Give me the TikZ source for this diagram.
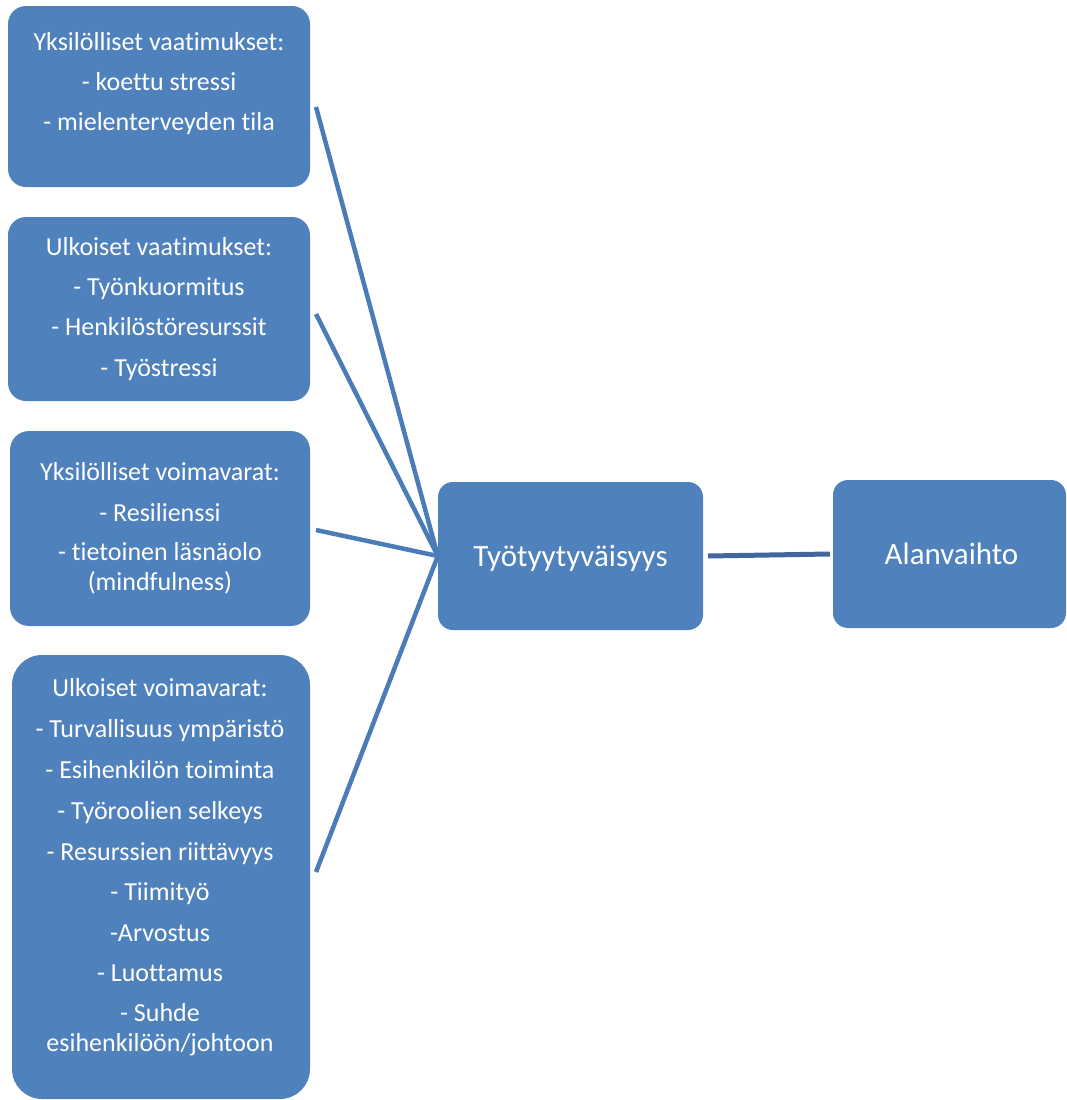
\documentclass[tikz,border=0pt]{standalone}
\usepackage{fontspec}
\setmainfont{Carlito}[Ligatures={NoCommon,NoContextual,NoRequired}]
\definecolor{boxblue}{RGB}{79,129,189}
\definecolor{linkblue}{RGB}{74,124,184}
\definecolor{darklink}{RGB}{64,104,158}
\begin{document}
\begin{tikzpicture}[x=1pt,y=-1pt,
  box/.style={fill=boxblue, draw=none, inner sep=0pt},
  txt/.style={text=white, anchor=base, inner sep=0pt, font=\fontsize{26}{30}\selectfont},
  bigtxt/.style={text=white, anchor=base, inner sep=0pt, font=\fontsize{31}{36}\selectfont},
  link/.style={draw=linkblue, line width=4.5pt},
  mainlink/.style={draw=darklink, line width=5pt},
]
\useasboundingbox (0,0) rectangle (1067,1100);

% boxes
\node[box, rounded corners=18pt, minimum width=302pt, minimum height=181pt] (b1) at (159,96.5) {};
\node[box, rounded corners=18pt, minimum width=302pt, minimum height=184pt] (b2) at (159,309) {};
\node[box, rounded corners=19pt, minimum width=300pt, minimum height=195pt] (b3) at (160,528.5) {};
\node[box, rounded corners=30pt, minimum width=298pt, minimum height=444pt] (b4) at (161,877) {};
\node[box, rounded corners=15pt, minimum width=265pt, minimum height=148pt] (ct) at (570.5,556) {};
\node[box, rounded corners=15pt, minimum width=233pt, minimum height=148pt] (av) at (949.5,554) {};

% connector end points
\coordinate (s1) at (316,107);
\coordinate (s2) at (316,314);
\coordinate (s3) at (316,530);
\coordinate (s4) at (316,872);
\coordinate (e1) at (708,556);
\coordinate (e2) at (830,554);

\draw[link] (s1) -- (ct.west);
\draw[link] (s2) -- (ct.west);
\draw[link] (s3) -- (ct.west);
\draw[link] (s4) -- (ct.west);
\draw[mainlink] (e1) -- (e2);

% box 1 text
\node[txt] (t11) at (159,50) {Yksilölliset vaatimukset:};
\node[txt] (t12) at (159,90) {- koettu stressi};
\node[txt] (t13) at (159,130) {- mielenterveyden tila};

% box 2 text
\node[txt] (t21) at (159,255) {Ulkoiset vaatimukset:};
\node[txt] (t22) at (159,295) {- Työnkuormitus};
\node[txt] (t23) at (159,335) {- Henkilöstöresurssit};
\node[txt] (t24) at (159,376) {- Työstressi};

% box 3 text
\node[txt] (t31) at (160,480) {Yksilölliset voimavarat:};
\node[txt] (t32) at (160,521) {- Resilienssi};
\node[txt] (t33) at (160,560) {- tietoinen läsnäolo};
\node[txt] (t34) at (160,590) {(mindfulness)};

% box 4 text
\node[txt] (t41) at (160,696) {Ulkoiset voimavarat:};
\node[txt] (t42) at (160,737) {- Turvallisuus ympäristö};
\node[txt] (t43) at (160,778) {- Esihenkilön toiminta};
\node[txt] (t44) at (160,819) {- Työroolien selkeys};
\node[txt] (t45) at (160,860) {- Resurssien riittävyys};
\node[txt] (t46) at (160,900) {- Tiimityö};
\node[txt] (t47) at (160,941) {-Arvostus};
\node[txt] (t48) at (160,981) {- Luottamus};
\node[txt] (t49) at (160,1021) {- Suhde};
\node[txt] (t410) at (160,1051) {esihenkilöön/johtoon};

% centre and right
\node[bigtxt] (tct) at (570.5,566) {Työtyytyväisyys};
\node[bigtxt] (tav) at (951.5,564) {Alanvaihto};
\end{tikzpicture}
\end{document}
